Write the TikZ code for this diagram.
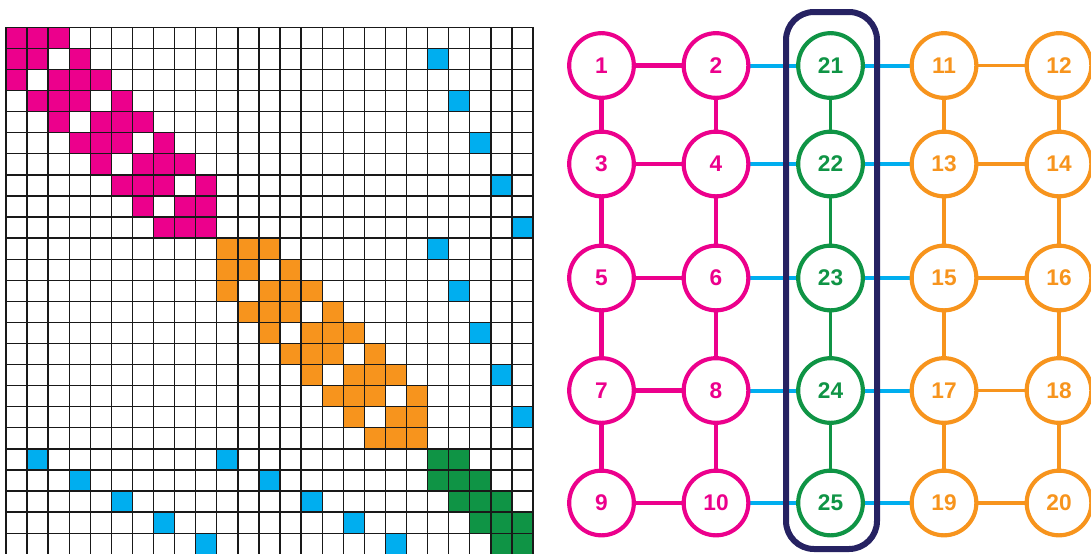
\documentclass[tikz,border=0pt]{standalone}
\usepackage{fontspec}
\setmainfont{Liberation Sans}
\definecolor{mag}{HTML}{EC008C}
\definecolor{org}{HTML}{F7941D}
\definecolor{grn}{HTML}{0F9445}
\definecolor{cyn}{HTML}{00AEEF}
\definecolor{nav}{HTML}{262262}
\pgfdeclarelayer{edgelayer}
\pgfdeclarelayer{framelayer}
\pgfsetlayers{edgelayer,framelayer,main}
\begin{document}
\begin{tikzpicture}[x=0.75pt,y=-0.75pt,
  gnode/.style={circle, draw, line width=3.1pt, fill=white, minimum size=48.5pt, inner sep=0pt,
    font=\fontsize{17}{18}\selectfont\bfseries},
  mnode/.style={gnode, draw=mag, text=mag},
  onode/.style={gnode, draw=org, text=org},
  grnode/.style={gnode, draw=grn, text=grn},
  medge/.style={draw=mag, line width=3.2pt},
  oedge/.style={draw=org, line width=2.8pt},
  gedge/.style={draw=grn, line width=2.6pt},
  bedge/.style={draw=cyn, line width=3pt},
  groupbox/.style={draw=nav, line width=4.5pt, rounded corners=21pt, minimum width=68.25pt,
    minimum height=402.75pt, inner sep=0pt},
  gridline/.style={draw=black!90, line width=1pt}
]
\useasboundingbox (0,0) rectangle (1091,553);
\def\cw{21.08}
% ---- matrix fills
\foreach \r/\cs in {1/{1,2,3},2/{1,2,4},3/{1,3,4,5},4/{2,3,4,6},5/{3,5,6,7},6/{4,5,6,8},7/{5,7,8,9},8/{6,7,8,10},9/{7,9,10},10/{8,9,10}}{
  \foreach \c in \cs {
    \fill[mag] ({6+(\c-1)*\cw},{27.3+(\r-1)*\cw}) rectangle ++(\cw,\cw);
    \fill[org] ({6+(\c+9)*\cw},{27.3+(\r+9)*\cw}) rectangle ++(\cw,\cw);
  }
}
\foreach \r/\cs in {21/{21,22},22/{21,22,23},23/{22,23,24},24/{23,24,25},25/{24,25}}{
  \foreach \c in \cs {
    \fill[grn] ({6+(\c-1)*\cw},{27.3+(\r-1)*\cw}) rectangle ++(\cw,\cw);
  }
}
\foreach \r/\c in {2/21,4/22,6/23,8/24,10/25,11/21,13/22,15/23,17/24,19/25,
  21/2,22/4,23/6,24/8,25/10,21/11,22/13,23/15,24/17,25/19}{
  \fill[cyn] ({6+(\c-1)*\cw},{27.3+(\r-1)*\cw}) rectangle ++(\cw,\cw);
}
% ---- grid lines
\foreach \i in {0,...,25}{
  \draw[gridline] ({6+\i*\cw},27.3) -- ++(0,527);
  \draw[gridline] (6,{27.3+\i*\cw}) -- ++(527,0);
}
% ---- graph nodes
\node[mnode] (n1) at (601.5,65.5) {1};
\node[mnode] (n2) at (716,65.5) {2};
\node[mnode] (n3) at (601.5,164) {3};
\node[mnode] (n4) at (716,164) {4};
\node[mnode] (n5) at (601.5,278) {5};
\node[mnode] (n6) at (716,278) {6};
\node[mnode] (n7) at (601.5,390.5) {7};
\node[mnode] (n8) at (716,390.5) {8};
\node[mnode] (n9) at (601.5,503) {9};
\node[mnode] (n10) at (716,503) {10};
\node[onode] (n11) at (944,65.5) {11};
\node[onode] (n12) at (1059,65.5) {12};
\node[onode] (n13) at (944,164) {13};
\node[onode] (n14) at (1059,164) {14};
\node[onode] (n15) at (944,278) {15};
\node[onode] (n16) at (1059,278) {16};
\node[onode] (n17) at (944,390.5) {17};
\node[onode] (n18) at (1059,390.5) {18};
\node[onode] (n19) at (944,503) {19};
\node[onode] (n20) at (1059,503) {20};
\node[grnode] (n21) at (830.5,65.5) {21};
\node[grnode] (n22) at (830.5,164) {22};
\node[grnode] (n23) at (830.5,278) {23};
\node[grnode] (n24) at (830.5,390.5) {24};
\node[grnode] (n25) at (830.5,503) {25};
% ---- frame
\begin{pgfonlayer}{framelayer}
\node[groupbox] (box) at (831.5,280.5) {};
\end{pgfonlayer}
% ---- edges
\begin{pgfonlayer}{edgelayer}
\foreach \a/\b in {1/2,1/3,2/4,3/4,3/5,4/6,5/6,5/7,6/8,7/8,7/9,8/10,9/10}
  \draw[medge] (n\a) -- (n\b);
\foreach \a/\b in {11/12,11/13,12/14,13/14,13/15,14/16,15/16,15/17,16/18,17/18,17/19,18/20,19/20}
  \draw[oedge] (n\a) -- (n\b);
\foreach \a/\b in {21/22,22/23,23/24,24/25}
  \draw[gedge] (n\a) -- (n\b);
\foreach \a/\b in {2/21,4/22,6/23,8/24,10/25,21/11,22/13,23/15,24/17,25/19}
  \draw[bedge] (n\a) -- (n\b);
\end{pgfonlayer}
\end{tikzpicture}
\end{document}
